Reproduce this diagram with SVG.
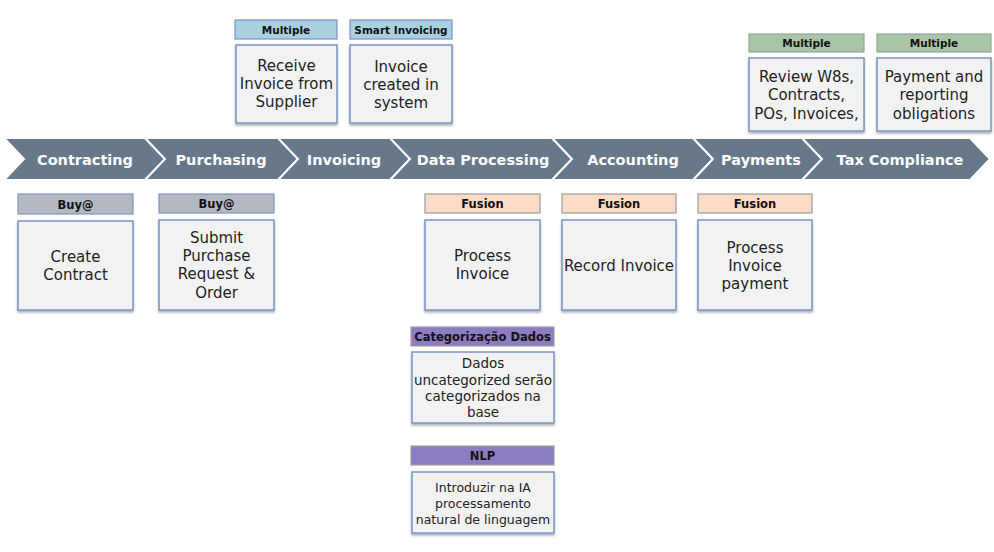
<svg xmlns="http://www.w3.org/2000/svg" width="994" height="552" viewBox="0 0 994 552">
<defs>
<filter id="sh" x="-10%" y="-10%" width="130%" height="130%">
<feDropShadow dx="0" dy="2" stdDeviation="1.2" flood-color="#000" flood-opacity="0.3"/>
</filter>
<style>
.chev{fill:#66788A;stroke:#fff;stroke-width:2;stroke-linejoin:miter}
.ct{font-family:"DejaVu Sans",sans-serif;font-weight:700;font-size:14.5px;fill:#fff;text-anchor:middle}
.body{fill:#F2F2F2;stroke:#7B93C6;stroke-width:1.5;filter:url(#sh)}
.hd{stroke-width:1.2}
.ht{font-family:"DejaVu Sans",sans-serif;font-weight:700;font-size:10.5px;fill:#111;text-anchor:middle}
.hl{font-size:11.5px}
.bt{font-family:"DejaVu Sans",sans-serif;font-size:15px;fill:#222;text-anchor:middle}
.st{font-family:"DejaVu Sans",sans-serif;font-size:13.5px;fill:#222;text-anchor:middle}
.xt{font-family:"DejaVu Sans",sans-serif;font-size:12.5px;fill:#222;text-anchor:middle}
.buy{fill:#B4B8C0;stroke:#7B93C6}
.blu{fill:#AAD0DF;stroke:#7B93C6}
.grn{fill:#A8C5A6;stroke:#8FA89A}
.fus{fill:#FADCC8;stroke:#9C9C9C}
.pur{fill:#8E7CC3;stroke:#A0A0A0}
</style>
</defs>
<rect width="994" height="552" fill="#fff"/>
<g id="stages">
<g id="stage-contracting"><polygon class="chev" points="4,138 145,138 165,159 145,180 4,180 24,159"/><text class="ct" x="85" y="165">Contracting</text></g>
<g id="stage-purchasing"><polygon class="chev" points="145,138 278,138 298,159 278,180 145,180 165,159"/><text class="ct" x="221" y="165">Purchasing</text></g>
<g id="stage-invoicing"><polygon class="chev" points="278,138 390,138 410,159 390,180 278,180 298,159"/><text class="ct" x="344" y="165">Invoicing</text></g>
<g id="stage-dataprocessing"><polygon class="chev" points="390,138 552,138 572,159 552,180 390,180 410,159"/><text class="ct" x="483" y="165">Data Processing</text></g>
<g id="stage-accounting"><polygon class="chev" points="552,138 693,138 713,159 693,180 552,180 572,159"/><text class="ct" x="633" y="165">Accounting</text></g>
<g id="stage-payments"><polygon class="chev" points="693,138 802,138 822,159 802,180 693,180 713,159"/><text class="ct" x="761" y="165">Payments</text></g>
<g id="stage-tax"><polygon class="chev" points="802,138 970,138 990,159 970,180 802,180 822,159"/><text class="ct" x="900" y="165">Tax Compliance</text></g>
</g>
<g id="connectors"></g>
<g id="create-contract">
<rect class="hd buy" x="18" y="194" width="115" height="20"/><text class="ht hl" x="75.5" y="208.5">Buy@</text>
<rect class="body" x="18" y="221" width="115" height="89"/>
<text class="bt" x="75.5" y="262">Create</text><text class="bt" x="75.5" y="280">Contract</text>
</g>
<g id="submit-purchase">
<rect class="hd buy" x="159" y="194" width="115" height="19"/><text class="ht hl" x="216.5" y="208">Buy@</text>
<rect class="body" x="159" y="220" width="115" height="90"/>
<text class="bt" x="216.5" y="243">Submit</text><text class="bt" x="216.5" y="261">Purchase</text><text class="bt" x="216.5" y="279">Request &amp;</text><text class="bt" x="216.5" y="298">Order</text>
</g>
<g id="receive-invoice">
<rect class="hd blu" x="235" y="20" width="102" height="19"/><text class="ht" x="286" y="34">Multiple</text>
<rect class="body" x="236" y="45" width="101" height="78"/>
<text class="bt" x="286.5" y="71">Receive</text><text class="bt" x="286.5" y="89">Invoice from</text><text class="bt" x="286.5" y="107">Supplier</text>
</g>
<g id="invoice-created">
<rect class="hd blu" x="350" y="20" width="102" height="19"/><text class="ht" x="401" y="34">Smart Invoicing</text>
<rect class="body" x="350" y="45" width="102" height="78"/>
<text class="bt" x="401" y="72">Invoice</text><text class="bt" x="401" y="90">created in</text><text class="bt" x="401" y="108">system</text>
</g>
<g id="process-invoice">
<rect class="hd fus" x="425" y="194" width="115" height="19"/><text class="ht hl" x="482.5" y="208">Fusion</text>
<rect class="body" x="425" y="220" width="115" height="90"/>
<text class="bt" x="482.5" y="261">Process</text><text class="bt" x="482.5" y="279">Invoice</text>
</g>
<g id="record-invoice">
<rect class="hd fus" x="562" y="194" width="114" height="19"/><text class="ht hl" x="619" y="208">Fusion</text>
<rect class="body" x="562" y="220" width="114" height="90"/>
<text class="bt" x="619" y="271">Record Invoice</text>
</g>
<g id="process-payment">
<rect class="hd fus" x="698" y="194" width="114" height="19"/><text class="ht hl" x="755" y="208">Fusion</text>
<rect class="body" x="698" y="220" width="114" height="90"/>
<text class="bt" x="755" y="253">Process</text><text class="bt" x="755" y="271">Invoice</text><text class="bt" x="755" y="289">payment</text>
</g>
<g id="review-w8s">
<rect class="hd grn" x="749" y="34" width="115" height="18"/><text class="ht" x="806.5" y="47">Multiple</text>
<rect class="body" x="749" y="58" width="115" height="73"/>
<text class="bt" x="806.5" y="82">Review W8s,</text><text class="bt" x="806.5" y="100">Contracts,</text><text class="bt" x="806.5" y="119">POs, Invoices,</text>
</g>
<g id="payment-reporting">
<rect class="hd grn" x="877" y="34" width="114" height="18"/><text class="ht" x="934" y="47">Multiple</text>
<rect class="body" x="877" y="58" width="114" height="73"/>
<text class="bt" x="934" y="82">Payment and</text><text class="bt" x="934" y="100">reporting</text><text class="bt" x="934" y="119">obligations</text>
</g>
<g id="categorizacao">
<rect class="hd pur" x="411" y="327" width="143" height="19"/><text class="ht hl" x="482.5" y="341">Categorização Dados</text>
<rect class="body" x="412" y="352" width="142" height="71"/>
<text class="st" x="483" y="368">Dados</text><text class="st" x="483" y="384.5">uncategorized serão</text><text class="st" x="483" y="400.5">categorizados na</text><text class="st" x="483" y="417">base</text>
</g>
<g id="nlp">
<rect class="hd pur" x="411" y="446" width="143" height="19"/><text class="ht hl" x="482.5" y="460">NLP</text>
<rect class="body" x="412" y="472" width="142" height="61"/>
<text class="xt" x="483" y="492">Introduzir na IA</text><text class="xt" x="483" y="508">processamento</text><text class="xt" x="483" y="524">natural de linguagem</text>
</g>
</svg>
